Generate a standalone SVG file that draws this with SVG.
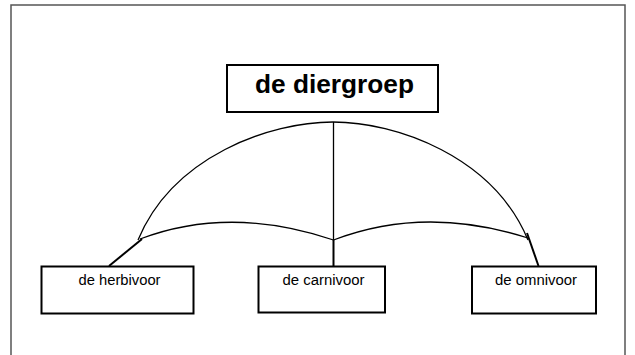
<svg xmlns="http://www.w3.org/2000/svg" width="635" height="355" viewBox="0 0 635 355">
  <style>
    .box { fill: #ffffff; stroke: #000000; stroke-width: 2; }
    .thin { fill: none; stroke: #000000; stroke-width: 1.3; }
    .thick { fill: none; stroke: #000000; stroke-width: 2; }
    .title { font-family: "Liberation Sans", Arial, sans-serif; font-size: 26px; font-weight: bold; fill: #000000; }
    .label { font-family: "Liberation Sans", Arial, sans-serif; font-size: 14px; fill: #000000; }
  </style>
  <rect x="0" y="0" width="635" height="355" fill="#ffffff"/>
  <path d="M11,360 V5 H625 V360" fill="none" stroke="#555555" stroke-width="1.5"/>

  <g id="connectors">
    <path class="thin" d="M138,240 C173,156 270,122 333,122 C396,122 493,156 528,240"/>
    <path class="thin" d="M140,239 Q230,205 333.5,240 Q425,205 528,238"/>
    <line class="thin" x1="333.5" y1="122" x2="333.5" y2="240"/>
    <line class="thick" x1="333.5" y1="240" x2="333.5" y2="267"/>
    <line class="thick" x1="142" y1="239" x2="109" y2="266"/>
    <line class="thick" x1="527" y1="233" x2="538.5" y2="266"/>
  </g>

  <g id="node-diergroep">
    <rect class="box" x="227" y="65" width="211" height="47"/>
    <text class="title" x="334.5" y="93" text-anchor="middle" textLength="159" lengthAdjust="spacingAndGlyphs">de diergroep</text>
  </g>

  <g id="node-herbivoor">
    <rect class="box" x="41.5" y="266.5" width="152" height="47"/>
    <text class="label" x="78.5" y="285" textLength="82" lengthAdjust="spacingAndGlyphs">de herbivoor</text>
  </g>

  <g id="node-carnivoor">
    <rect class="box" x="258.5" y="266.5" width="126.5" height="46"/>
    <text class="label" x="282.5" y="285" textLength="82" lengthAdjust="spacingAndGlyphs">de carnivoor</text>
  </g>

  <g id="node-omnivoor">
    <rect class="box" x="472" y="266.5" width="124" height="47"/>
    <text class="label" x="495" y="285" textLength="82" lengthAdjust="spacingAndGlyphs">de omnivoor</text>
  </g>
</svg>
